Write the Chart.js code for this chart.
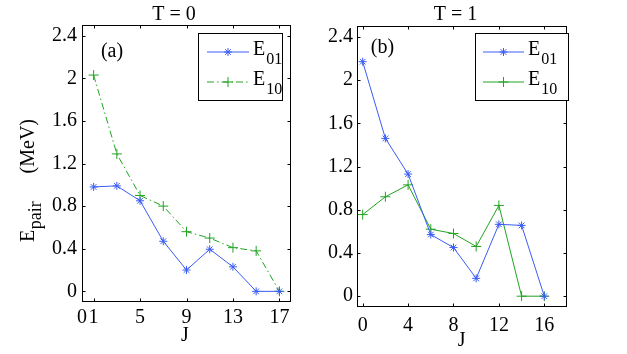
<!DOCTYPE html>
<html>
<head>
<meta charset="utf-8">
<script src="https://cdn.jsdelivr.net/npm/chart.js@4.4.1/dist/chart.umd.min.js"></script>
<style>
  html, body { margin: 0; padding: 0; background: #fff; }
  #wrap { position: relative; width: 627px; height: 354px; }
  canvas { position: absolute; top: 0; }
</style>
</head>
<body>
<div id="wrap">
  <canvas id="chartA" width="313" height="354" style="left:0;width:313px;height:354px"></canvas>
  <canvas id="chartB" width="314" height="354" style="left:313px;width:314px;height:354px"></canvas>
</div>
<script>
// panel (a), T = 0
const jA = [1, 3, 5, 7, 9, 11, 13, 15, 17];
const e01A = [0.98, 0.99, 0.85, 0.47, 0.20, 0.395, 0.23, 0, 0];
const e10A = [2.03, 1.29, 0.90, 0.80, 0.56, 0.50, 0.41, 0.38, 0];
const xTicksA = [0, 1, 5, 9, 13, 17];

// panel (b), T = 1
const jB = [0, 2, 4, 6, 8, 10, 12, 14, 16];
const e01B = [2.17, 1.46, 1.13, 0.57, 0.45, 0.165, 0.665, 0.655, 0];
const e10B = [0.755, 0.92, 1.03, 0.62, 0.58, 0.46, 0.84, 0, 0];
const xTicksB = [0, 4, 8, 12, 16];

const yTicks = [0, 0.4, 0.8, 1.2, 1.6, 2, 2.4];
const seriesSub = ['01', '10'];

const FONT = 'Liberation Serif';
const BLUE = '#3a5cf5';
const GREEN = '#22a322';

Chart.defaults.font.family = FONT;
Chart.defaults.font.size = 20;
Chart.defaults.color = '#000';

function font(px) { return px + 'px "' + FONT + '"'; }

function marker(ctx, style, x, y, r) {
    ctx.beginPath();
    ctx.moveTo(x - r, y); ctx.lineTo(x + r, y);
    ctx.moveTo(x, y - r); ctx.lineTo(x, y + r);
    if (style === 'star') {
        const d = r * Math.SQRT1_2;
        ctx.moveTo(x - d, y - d); ctx.lineTo(x + d, y + d);
        ctx.moveTo(x - d, y + d); ctx.lineTo(x + d, y - d);
    }
    ctx.stroke();
}

// box, inward ticks, legend and labels
const framePlugin = {
    id: 'frame',
    afterDraw(chart, args, o) {
        const { ctx, chartArea: a, scales } = chart;
        const L = Math.round(a.left) + 0.5, R = Math.round(a.right) - 0.5;
        const T = Math.round(a.top) + 0.5, B = Math.round(a.bottom) - 0.5;
        ctx.save();
        ctx.strokeStyle = '#000';
        ctx.lineWidth = 1;
        ctx.setLineDash([]);
        ctx.strokeRect(L, T, R - L, B - T);
        ctx.beginPath();
        scales.x.ticks.forEach(t => {
            const px = Math.round(scales.x.getPixelForValue(t.value)) + 0.5;
            ctx.moveTo(px, B); ctx.lineTo(px, B - 3);
            ctx.moveTo(px, T); ctx.lineTo(px, T + 3);
        });
        scales.y.ticks.forEach(t => {
            const py = Math.round(scales.y.getPixelForValue(t.value)) + 0.5;
            ctx.moveTo(L, py); ctx.lineTo(L + 3, py);
            ctx.moveTo(R, py); ctx.lineTo(R - 3, py);
        });
        ctx.stroke();

        ctx.fillStyle = '#000';
        ctx.textAlign = 'center';
        ctx.textBaseline = 'middle';
        ctx.font = font(20);
        ctx.fillText(o.title, o.titleX, 15);
        ctx.fillText(o.tag, o.tagX, o.tagY);
        ctx.fillText('J', o.jX, o.jY);

        // legend
        const lg = o.legend;
        ctx.fillStyle = '#fff';
        ctx.fillRect(lg.x, lg.y, lg.w, lg.h);
        ctx.strokeRect(lg.x + 0.5, lg.y + 0.5, lg.w, lg.h);
        chart.data.datasets.forEach((ds, i) => {
            const ly = lg.rows[i];
            ctx.strokeStyle = ds.borderColor;
            ctx.setLineDash(ds.borderDash || []);
            ctx.beginPath();
            ctx.moveTo(lg.x1, ly); ctx.lineTo(lg.x2, ly);
            ctx.stroke();
            ctx.setLineDash([]);
            marker(ctx, ds.pointStyle, (lg.x1 + lg.x2) / 2, ly, ds.pointRadius);
            ctx.fillStyle = '#000';
            ctx.textAlign = 'left';
            ctx.textBaseline = 'alphabetic';
            ctx.font = font(20);
            ctx.fillText('E', lg.tx, ly + 2.5);
            const w = ctx.measureText('E').width;
            ctx.font = font(16);
            ctx.fillText(seriesSub[i], lg.tx + w + 1, ly + 11.5);
        });

        // y axis title with subscript, running from y=242 up to y=118
        if (o.yTitle) {
            ctx.save();
            ctx.translate(33.5, 242);
            ctx.rotate(-Math.PI / 2);
            ctx.textBaseline = 'alphabetic';
            ctx.textAlign = 'left';
            ctx.font = font(20);
            const wE = ctx.measureText('E').width;
            ctx.fillText('E', 0, 0);
            ctx.font = font(18);
            ctx.fillText('pair', wE + 0.5, 7);
            ctx.font = font(20);
            ctx.textAlign = 'right';
            ctx.fillText('(MeV)', 123, 0);
            ctx.restore();
        }
        ctx.restore();
    }
};

function makeChart(id, cfg) {
    const pts = (xs, ys) => xs.map((x, i) => ({ x: x, y: ys[i] }));
    return new Chart(document.getElementById(id), {
        type: 'line',
        data: {
            datasets: [{
                label: 'E01',
                data: pts(cfg.j, cfg.e01),
                borderColor: BLUE,
                backgroundColor: BLUE,
                borderWidth: 1,
                pointStyle: 'star',
                pointRadius: 4,
                pointBorderWidth: 1,
                pointBorderColor: BLUE,
                tension: 0
            }, {
                label: 'E10',
                data: pts(cfg.j, cfg.e10),
                borderColor: GREEN,
                backgroundColor: GREEN,
                borderWidth: 1,
                borderDash: cfg.dash,
                pointStyle: 'cross',
                pointRadius: 5,
                pointBorderWidth: 1,
                pointBorderColor: GREEN,
                tension: 0
            }]
        },
        options: {
            responsive: false,
            animation: false,
            devicePixelRatio: 1,
            layout: { padding: cfg.pad },
            plugins: {
                legend: { display: false },
                tooltip: { enabled: false },
                frame: cfg.frame
            },
            scales: {
                x: {
                    type: 'linear',
                    min: cfg.xMin,
                    max: 18,
                    afterBuildTicks: s => { s.ticks = cfg.xTicks.map(v => ({ value: v })); },
                    afterFit: s => { s.height = cfg.xH; },
                    grid: { display: false, drawTicks: false, tickLength: 0 },
                    border: { display: false },
                    ticks: {
                        autoSkip: false,
                        maxRotation: 0,
                        padding: cfg.xPad,
                        color: '#000',
                        font: { family: FONT, size: 20 },
                        callback: v => String(v)
                    }
                },
                y: {
                    min: -0.1,
                    max: 2.5,
                    afterBuildTicks: s => { s.ticks = yTicks.map(v => ({ value: v })); },
                    afterFit: s => { s.width = cfg.yW; },
                    grid: { display: false, drawTicks: false, tickLength: 0 },
                    border: { display: false },
                    ticks: {
                        autoSkip: false,
                        padding: cfg.yPad,
                        color: '#000',
                        font: { family: FONT, size: 20 },
                        callback: v => String(v)
                    }
                }
            }
        },
        plugins: [framePlugin]
    });
}

makeChart('chartA', {
    j: jA, e01: e01A, e10: e10A, xTicks: xTicksA, xMin: 0,
    dash: [7, 3, 1.5, 3],
    pad: { left: 0, top: 25, right: 22, bottom: 0 },
    xH: 52, yW: 82, xPad: 3.5, yPad: 5,
    frame: {
        title: 'T = 0', titleX: 174, tag: '(a)', tagX: 112, tagY: 52,
        jX: 185, jY: 336, yTitle: true,
        legend: { x: 198, y: 33, w: 84, h: 67, x1: 207, x2: 249, tx: 253, rows: [52, 82] }
    }
});

makeChart('chartB', {
    j: jB, e01: e01B, e10: e10B, xTicks: xTicksB, xMin: -0.5,
    dash: [],
    pad: { left: 0, top: 26, right: 60, bottom: 0 },
    xH: 47, yW: 44, xPad: 6.5, yPad: 4,
    frame: {
        title: 'T = 1', titleX: 142.5, tag: '(b)', tagX: 69.5, tagY: 47.5,
        jX: 148.7, jY: 341, yTitle: false,
        legend: { x: 162, y: 33, w: 93, h: 67, x1: 170, x2: 211, tx: 215, rows: [52, 82] }
    }
});
</script>
</body>
</html>
